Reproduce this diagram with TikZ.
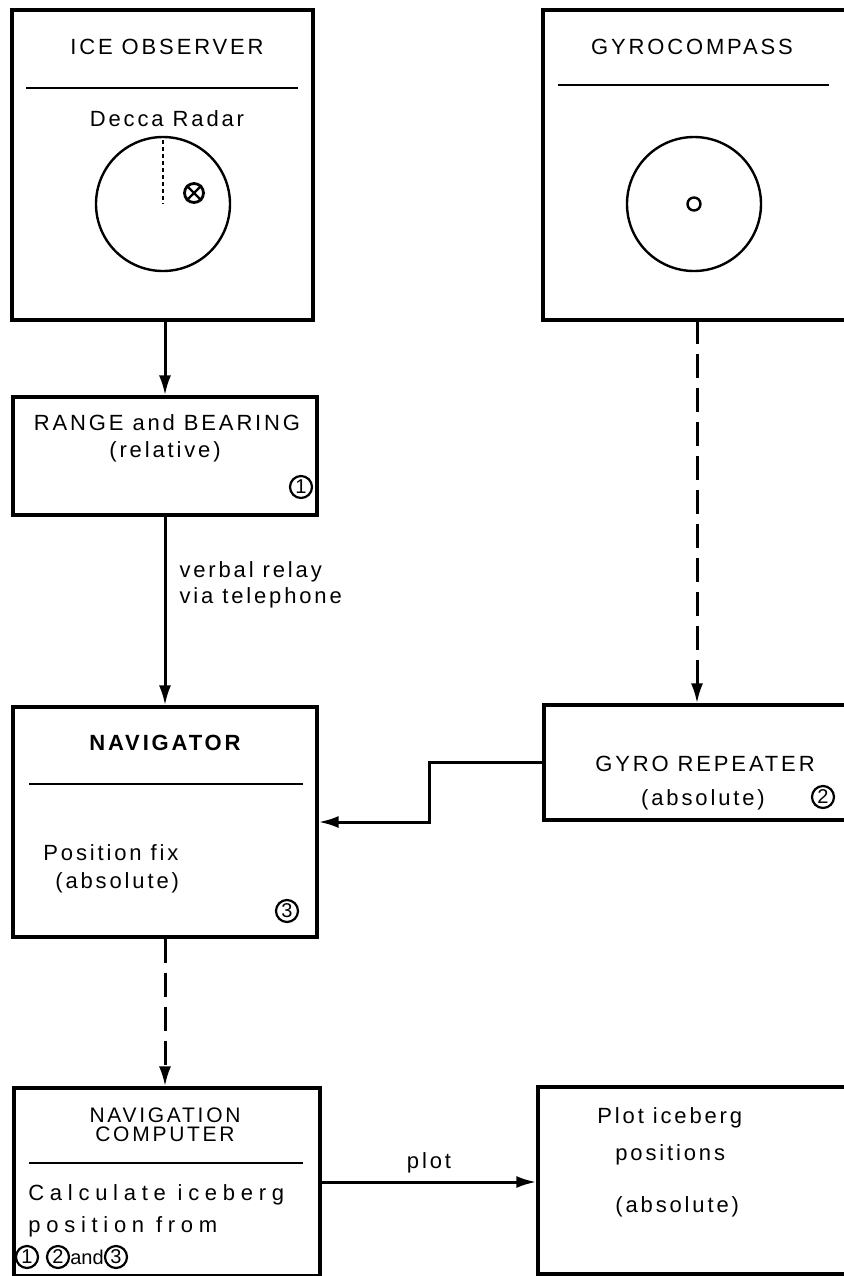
\documentclass[tikz,border=0pt]{standalone}
\usepackage{fontspec}
\setmainfont{Liberation Sans}[LetterSpace=13]
\usetikzlibrary{arrows.meta, positioning, calc}

\begin{document}
\begin{tikzpicture}[
  x=0.5pt, y=-0.5pt,
  blk/.style={draw, line width=1.6pt, rectangle, inner sep=0pt},
  lbl/.style={inner sep=0pt, font=\fontsize{11}{13}\selectfont},
  wide/.style={lbl, font=\fontsize{11}{13}\selectfont\addfontfeature{LetterSpace=26}},
  num/.style={circle, draw, line width=1.1pt, inner sep=0pt, minimum size=11pt, font=\fontsize{10}{10}\selectfont},
  rule/.style={line width=1.3pt},
  flow/.style={line width=1.5pt, -{Latex[length=10pt, width=6pt]}},
  dflow/.style={flow, dash pattern=on 12pt off 5pt}
]
  \useasboundingbox (0,0) rectangle (844,1276);
  \clip (0,0) rectangle (844,1276);

  % boxes
  \node (ice)   [blk, minimum width=150.5pt, minimum height=155pt]  at (162.5,165) {};
  \node (gyro)  [blk, minimum width=163.5pt, minimum height=155pt]  at (706.5,165) {};
  \node (range) [blk, minimum width=152pt,   minimum height=59pt]   at (165,456)   {};
  \node (nav)   [blk, minimum width=152pt,   minimum height=115pt]  at (165,822)   {};
  \node (rep)   [blk, minimum width=163pt,   minimum height=57.5pt] at (707,762.5) {};
  \node (comp)  [blk, minimum width=153pt,   minimum height=94pt]   at (167,1182)  {};
  \node (plot)  [blk, minimum width=166pt,   minimum height=93.5pt] at (704,1180.5) {};

  % ice observer
  \node (iceT) [lbl] at (167,47) {ICE OBSERVER};
  \draw[rule] (26,88) -- (298,88);
  \node (decca) [lbl] at (167,119) {Decca Radar};
  \draw[line width=1.2pt] (163,204) circle[radius=33.5pt];
  \draw[line width=1.1pt, dash pattern=on 2pt off 1.5pt] (163,140) -- (163,204);
  \node (echo) [circle, draw, line width=1.4pt, minimum size=9.5pt, inner sep=0pt] at (194,193) {};
  \draw[line width=1.2pt] (echo.north east) -- (echo.south west)
    (echo.north west) -- (echo.south east);

  % gyrocompass
  \node (gyroT) [lbl] at (692,47) {GYROCOMPASS};
  \draw[rule] (558,85) -- (829,85);
  \draw[line width=1.2pt] (694,204) circle[radius=33.5pt];
  \node (pivot) [circle, draw, line width=1.2pt, minimum size=6.5pt, inner sep=0pt] at (694,204) {};
  \coordinate (gtap) at (697,320);

  % range and bearing
  \node (rangeT) [lbl] at (167,423) {RANGE and BEARING};
  \node (rel) [lbl] at (165,452) {(relative)};
  \node (n1) [num] at (301,487) {1};

  % navigator
  \node (navT) [lbl, font=\fontsize{11}{13}\selectfont\bfseries] at (165,743) {NAVIGATOR};
  \draw[rule] (29,784) -- (303,784);
  \node (fix) [lbl, anchor=west] at (43,853) {Position fix};
  \node (abs3) [lbl, anchor=west] at (55,883) {(absolute)};
  \node (n3) [num] at (287,911) {3};

  % gyro repeater
  \node (repT) [lbl] at (705,764) {GYRO REPEATER};
  \node (abs2) [lbl] at (703,800) {(absolute)};
  \node (n2) [num] at (823,797) {2};

  % navigation computer
  \node (compT1) [lbl, font=\fontsize{10.5}{12}\selectfont] at (165,1115) {NAVIGATION};
  \node (compT2) [lbl, font=\fontsize{10.5}{12}\selectfont] at (165,1134) {COMPUTER};
  \draw[rule] (29,1163) -- (303,1163);
  \node (calc1) [wide, anchor=west] at (28,1195) {Calculate iceberg};
  \node (calc2) [wide, anchor=west] at (28,1227) {position from};
  \node (c1) [num] at (27,1257) {1};
  \node (c2) [num] at (58,1257) {2};
  \node (cand) [lbl, font=\fontsize{10}{10}\selectfont\addfontfeature{LetterSpace=0}] at (87,1257) {and};
  \node (c3) [num] at (116,1257) {3};

  % plot
  \node (pl1) [lbl, anchor=west] at (597,1118) {Plot iceberg};
  \node (pl2) [lbl, anchor=west] at (615,1155) {positions};
  \node (pl3) [lbl, anchor=west] at (615,1207) {(absolute)};

  % connectors
  \draw[flow] (range.north |- ice.south) -- (range.north);
  \draw[flow] (range.south) -- node[lbl, pos=0.36, right=6.5pt, align=left] {verbal relay\\via telephone} (nav.north);
  \draw[dflow] (gtap) -- (gtap |- rep.north);
  \draw[flow] (rep.west) -- ++(-113,0) |- (nav.east);
  \draw[dflow] (nav.south) -- (nav.south |- comp.north);
  \draw[flow] (comp.east) -- node[lbl, above=3.5pt] {plot} (comp.east -| plot.west);
\end{tikzpicture}
\end{document}
